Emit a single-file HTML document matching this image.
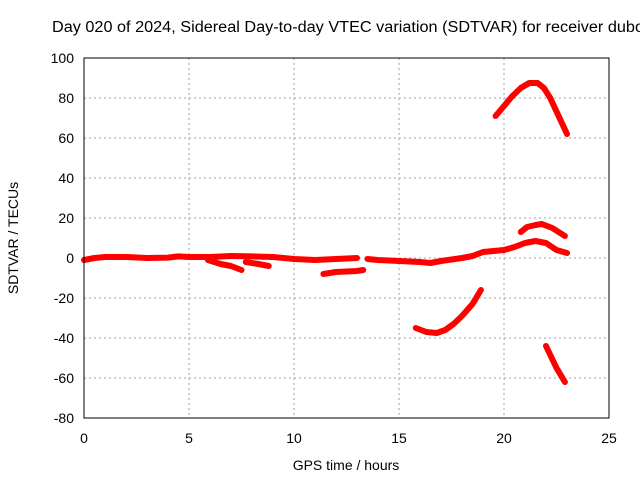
<!DOCTYPE html>
<html><head><meta charset="utf-8"><style>
body{margin:0;background:#fff;font-family:"Liberation Sans",sans-serif}
svg text{font-family:"Liberation Sans",sans-serif;font-size:14px;fill:#000}
</style></head><body>
<svg id="chart" width="640" height="480">
<text x="52" y="32" textLength="592" lengthAdjust="spacingAndGlyphs" style="font-size:15.5px">Day 020 of 2024, Sidereal Day-to-day VTEC variation (SDTVAR) for receiver dubo</text>
<g id="grid"></g><g id="ticks"></g><g id="series"></g>
<rect x="84" y="58" width="525" height="360" fill="none" stroke="#000" stroke-width="1"/>
<text x="346" y="470" text-anchor="middle">GPS time / hours</text>
<text transform="translate(18,238) rotate(-90)" text-anchor="middle">SDTVAR / TECUs</text>
</svg>
<script>
const xTicks=[0,5,10,15,20,25];
const yTicks=[-80,-60,-40,-20,0,20,40,60,80,100];
const segMain=[[0,-1],[0.5,0],[1,0.5],[2,0.5],[3,0],[4,0.2],[4.5,0.8],[5,0.5],[6,0.5],[7,1],[8,0.8],[9,0.5],[10,-0.5],[11,-1],[12,-0.5],[13,0]];
const segMain2=[[13.5,-0.5],[14,-1],[15,-1.5],[16,-2],[16.5,-2.5],[17,-1.5],[18,0],[18.5,1],[19,3],[20,4],[20.5,5.5],[21,7.5],[21.5,8.5],[22,7.5],[22.5,4],[23,2.5]];
const segLow1=[[5.9,-1],[6.5,-3],[7,-4],[7.5,-6]];
const segLow2=[[7.7,-2],[8.3,-3],[8.8,-4]];
const segLow3=[[11.4,-8],[12,-7],[13,-6.5],[13.3,-6]];
const segDip=[[15.8,-35],[16.3,-37],[16.8,-37.5],[17.2,-36],[17.6,-33],[18,-29],[18.5,-23],[18.9,-16]];
const segArc=[[19.6,71],[20,76],[20.4,81],[20.8,85],[21.2,87.5],[21.6,87.5],[21.9,85],[22.2,80],[22.6,71],[23,62]];
const segMid=[[20.8,13],[21.1,15.5],[21.5,16.5],[21.8,17],[22.3,15],[22.9,11]];
const segFall=[[22,-44],[22.5,-55],[22.9,-62]];
const segments=[segMain,segMain2,segLow1,segLow2,segLow3,segDip,segArc,segMid,segFall];
const X=h=>84+h*21, Y=v=>258-v*2;
const NS="http://www.w3.org/2000/svg";
const grid=document.getElementById('grid'),ticks=document.getElementById('ticks'),ser=document.getElementById('series');
function mk(tag,attrs,parent){const e=document.createElementNS(NS,tag);for(const k in attrs)e.setAttribute(k,attrs[k]);parent.appendChild(e);return e;}
xTicks.forEach(t=>{
 if(t>0&&t<25){const l=mk('line',{x1:X(t),x2:X(t),y1:58,y2:418,stroke:'#a0a0a0','stroke-dasharray':'2,3'},grid);
 
 }
 const tx=mk('text',{x:X(t),y:443,'text-anchor':'middle'},ticks);tx.textContent=t;
 
 
});
yTicks.forEach(t=>{
 if(t>-80&&t<100){const l=mk('line',{x1:84,x2:609,y1:Y(t),y2:Y(t),stroke:'#a0a0a0','stroke-dasharray':'2,3'},grid);
 
 }
 const tx=mk('text',{x:74,y:Y(t)+5,'text-anchor':'end'},ticks);tx.textContent=t;
 
 
});
segments.forEach(s=>{
 const p=mk('polyline',{points:s.map(d=>X(d[0])+','+Y(d[1])).join(' '),fill:'none',stroke:'#ff0000','stroke-width':6,'stroke-linejoin':'round','stroke-linecap':'round'},ser);
 
 
});
</script>
</body></html>
